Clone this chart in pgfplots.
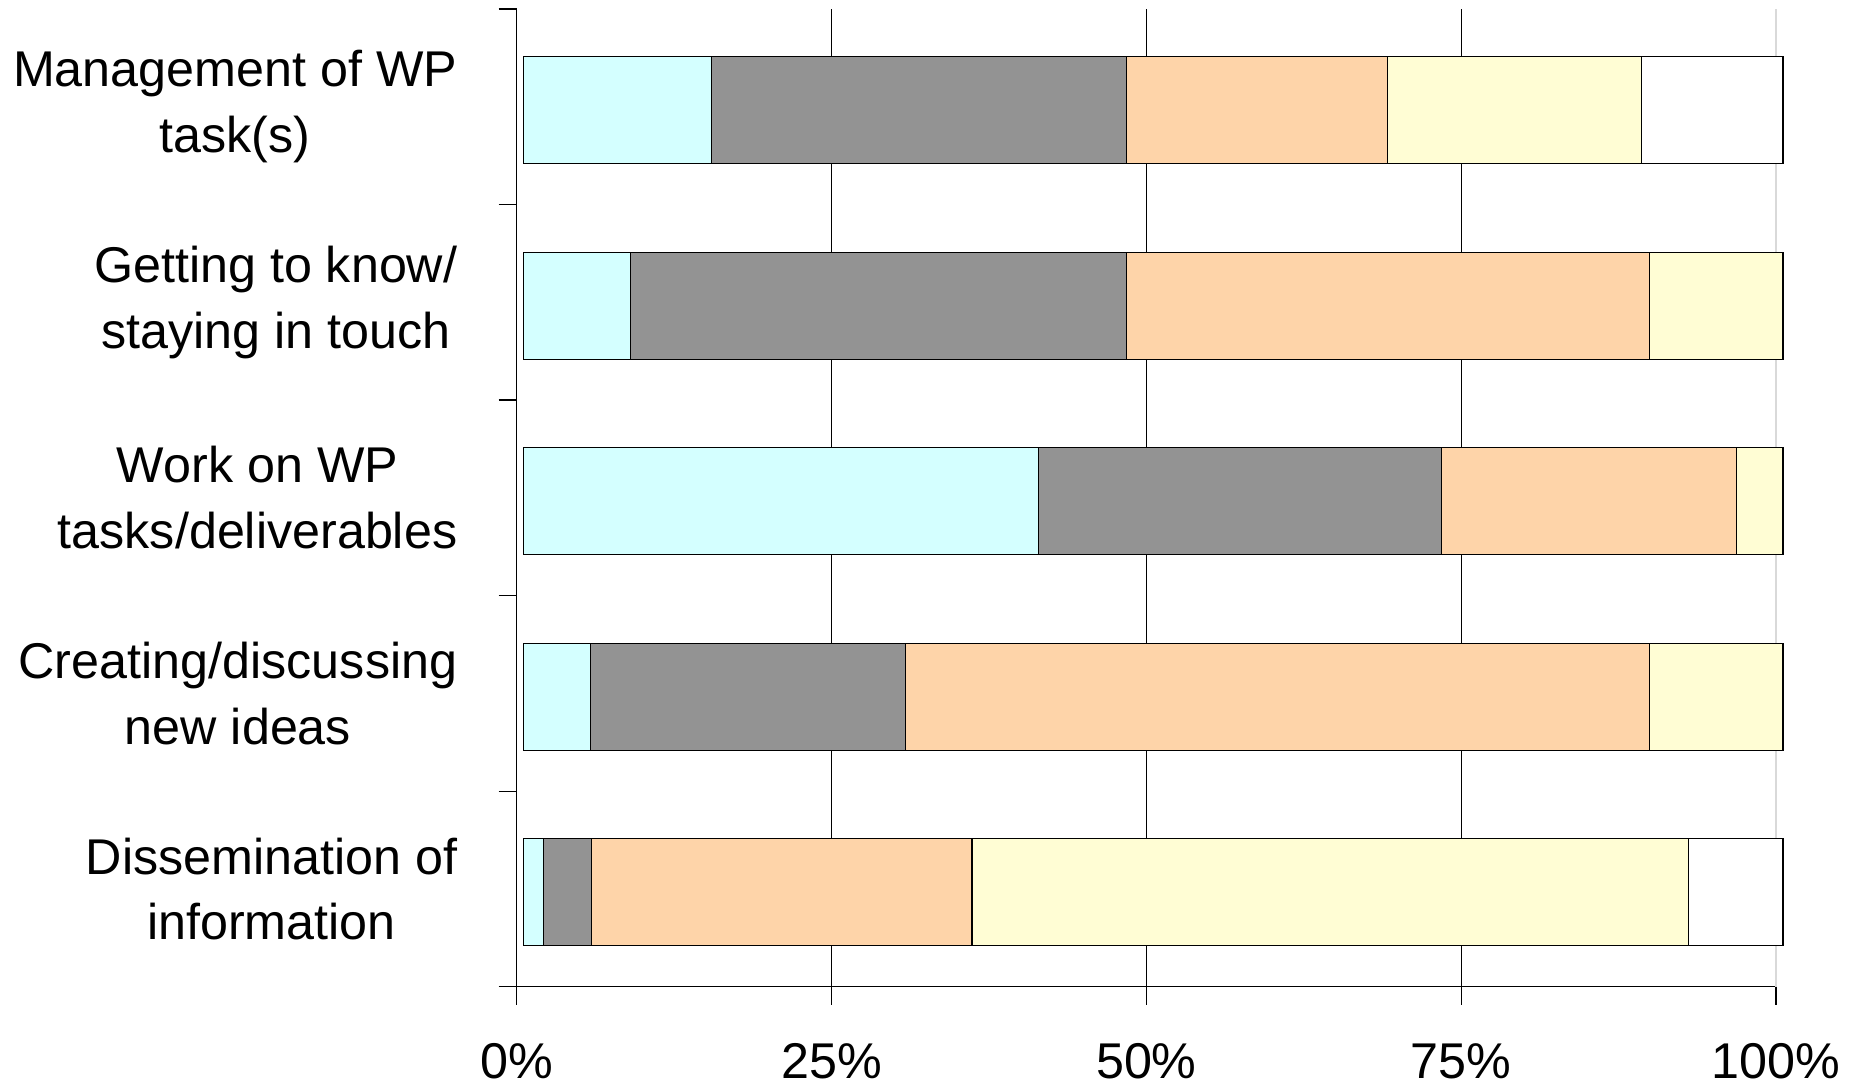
\documentclass[border=0pt]{standalone}
\usepackage{fontspec}
\setmainfont{Liberation Sans}
\usepackage{pgfplots}
\usepackage{pgfplotstable}
\pgfplotsset{compat=1.18}
\definecolor{cCyan}{HTML}{D4FFFF}
\definecolor{cGray}{HTML}{939393}
\definecolor{cOrange}{HTML}{FED4A9}
\definecolor{cYellow}{HTML}{FFFDD4}
\definecolor{cGrid}{HTML}{D9D9D9}
% y: 0 = Dissemination ... 4 = Management
\pgfplotstableread{
y  a     b     c     d     e
0  1.6   3.8   30.2  56.9  7.5
1  5.3   25.0  59.1  10.6  0
2  40.9  32.0  23.4  3.7   0
3  8.5   39.4  41.5  10.6  0
4  14.9  33.0  20.7  20.2  11.2
}\datatable
\begin{document}
\begin{tikzpicture}
\path[use as bounding box] (-51.67mm,-10.13mm) rectangle (133.73mm,98.67mm);
\begin{axis}[
  at={(0,0)}, anchor=south west,
  scale only axis,
  width=125.93mm, height=97.77mm,
  xbar stacked,
  bar width=10.7mm,
  bar shift=-0.33mm,
  clip=false,
  xmin=0, xmax=100,
  ymin=-0.5, ymax=4.5,
  axis x line*=bottom,
  axis y line*=left,
  axis line style={-, line width=0.35pt},
  tick align=outside,
  major tick length=1.8mm,
  xtick={0,25,50,75},
  xticklabels={0\%,25\%,50\%,75\%},
  extra x ticks={100},
  extra x tick labels={100\%},
  extra x tick style={grid style={cGrid, line width=0.5pt}},
  xmajorgrids=true,
  grid style={black, line width=0.35pt},
  ytick={-0.5,0.5,1.5,2.5,3.5,4.5},
  y tick label as interval,
  yticklabels={{Dissemination of\\information},{Creating/discussing\\new ideas},{Work on WP\\tasks/deliverables},{Getting to know/\\staying in touch},{Management of WP\\task(s)},{}},
  tick style={black, line width=0.35pt},
  yticklabel style={font=\fontsize{14.3}{18.7}\selectfont, align=center, xshift=-2.9mm},
  xticklabel style={font=\fontsize{14.3}{17}\selectfont, yshift=-2.6mm},
  /pgf/number format/assume math mode=true,
  every axis plot/.append style={draw=black, line width=0.35pt, xshift=0.69mm},
]
\addplot[fill=cCyan] table[x=a, y=y] {\datatable};
\addplot[fill=cGray] table[x=b, y=y] {\datatable};
\addplot[fill=cOrange] table[x=c, y=y] {\datatable};
\addplot[fill=cYellow] table[x=d, y=y] {\datatable};
\addplot[fill=white] table[x=e, y=y] {\datatable};
\end{axis}
\end{tikzpicture}
\end{document}
